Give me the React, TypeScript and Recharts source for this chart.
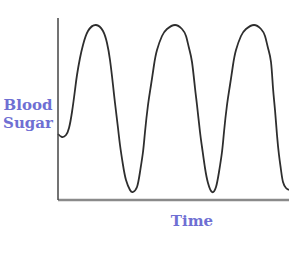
import React from "react";
import { LineChart, Line, XAxis, YAxis } from "recharts";

// time (arbitrary units) and blood sugar level
const times = [
  0, 4, 8, 11, 14, 17, 19, 22, 25, 30, 38, 45, 49, 52, 55, 57, 60, 62, 65, 68, 72, 75,
  79, 82, 85, 87, 90, 93, 96, 99, 104, 109, 117,
  124, 128, 131, 134, 137, 139, 142, 144, 147, 150, 154,
  158, 161, 164, 166, 169, 172, 175, 178, 183, 188, 196,
  203, 207, 210, 213, 215, 217, 219, 221, 223, 225, 228, 231,
];
const sugar = [
  66, 63, 65, 72, 88, 110, 125, 142, 155, 169, 175, 169, 157, 140, 115, 97, 72, 55, 35, 20, 10, 8,
  13, 28, 48, 68, 95, 115, 135, 150, 164, 171, 175,
  171, 164, 152, 138, 112, 95, 68, 53, 32, 17, 8,
  13, 28, 48, 68, 95, 115, 135, 150, 164, 171, 175,
  171, 164, 152, 138, 112, 90, 65, 45, 30, 18, 12, 10,
];

const xLabel = "Time";
const yLabelLines = ["Blood", "Sugar"];

const data = times.map((t, i) => ({ t, v: sugar[i] }));

const labelStyle = { fill: "#6f6fd3", fontFamily: "'DejaVu Serif', serif", fontWeight: 700, fontSize: 15 };

function YLabel({ viewBox }: { viewBox?: { x: number; y: number; width: number; height: number } }) {
  if (!viewBox) return null;
  const cx = viewBox.x + 28;
  return (
    <text textAnchor="middle" style={labelStyle}>
      <tspan x={cx} y={110}>{yLabelLines[0]}</tspan>
      <tspan x={cx} y={128}>{yLabelLines[1]}</tspan>
    </text>
  );
}

function XLabel({ viewBox }: { viewBox?: { x: number; y: number; width: number; height: number } }) {
  if (!viewBox) return null;
  return (
    <text x={viewBox.x + 134} y={viewBox.y + 26} textAnchor="middle" style={labelStyle}>
      {xLabel}
    </text>
  );
}

export default function App() {
  return (
    <div style={{ position: "absolute", left: 0, top: 0, width: 289, height: 259, background: "#fff" }}>
      <LineChart width={289} height={259} data={data} margin={{ top: 18, right: 0, left: 0, bottom: 0 }}>
        <XAxis
          dataKey="t"
          type="number"
          domain={[0, 231]}
          tick={false}
          tickLine={false}
          height={59}
          axisLine={{ stroke: "#8a8a8a", strokeWidth: 2.5 }}
          label={<XLabel />}
        />
        <YAxis
          type="number"
          domain={[0, 182]}
          tick={false}
          tickLine={false}
          width={58}
          axisLine={{ stroke: "#444", strokeWidth: 1.5 }}
          label={<YLabel />}
        />
        <Line type="natural" dataKey="v" stroke="#2e2e2e" strokeWidth={1.8} dot={false} isAnimationActive={false} />
      </LineChart>
    </div>
  );
}
